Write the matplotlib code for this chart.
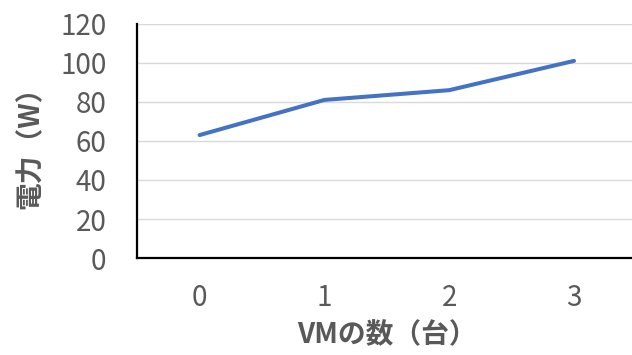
import matplotlib
matplotlib.use("Agg")
import matplotlib.pyplot as plt

# データ
vm_count = ["0", "1", "2", "3"]
power_w = [63, 81, 86, 101]
y_ticks = [0, 20, 40, 60, 80, 100, 120]

plt.rcParams['font.family'] = ['Noto Sans CJK JP', 'DejaVu Sans']

fig = plt.figure(figsize=(6.32, 3.55), dpi=100)
ax = fig.add_axes([0.217, 0.273, 0.79, 0.66])

ax.plot(range(len(vm_count)), power_w, color='#4472C4', linewidth=2.9, solid_capstyle='round')

ax.set_xlim(-0.5, 3.5)
ax.set_ylim(0, 120)
ax.set_yticks(y_ticks)
ax.set_xticks(range(len(vm_count)))
ax.set_xticklabels(vm_count)
ax.grid(axis='y', color='#D9D9D9', linewidth=1)
ax.set_axisbelow(True)

for s in ['top', 'right']:
    ax.spines[s].set_visible(False)
for s in ['left', 'bottom']:
    ax.spines[s].set_color('black')
    ax.spines[s].set_linewidth(1.6)

ax.tick_params(axis='both', length=0, labelsize=20, labelcolor='#595959')
ax.tick_params(axis='y', pad=22)
ax.tick_params(axis='x', pad=18)

ax.set_xlabel("VMの数（台）", fontsize=20, fontweight='bold', color='#595959', labelpad=6)
ax.set_ylabel("電力（W）", fontsize=20, fontweight='bold', color='#595959', labelpad=11)

plt.savefig("out.png", dpi=100)
plt.close()
